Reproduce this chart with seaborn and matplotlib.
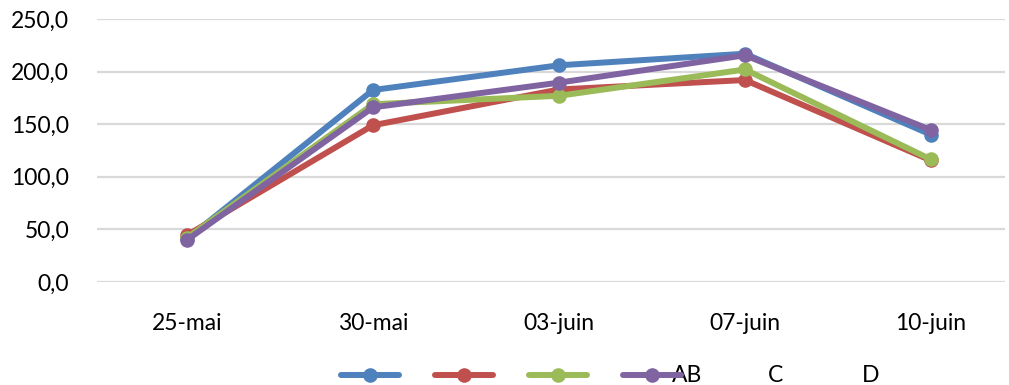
import matplotlib
matplotlib.use("Agg")
import matplotlib.pyplot as plt
from matplotlib.lines import Line2D
import seaborn as sns
import pandas as pd

dates = ["25-mai", "30-mai", "03-juin", "07-juin", "10-juin"]
series_names = ["A", "B", "C", "D"]
values_a = [41.0, 182.5, 206.0, 217.0, 140.0]
values_b = [44.5, 149.0, 183.0, 192.0, 115.5]
values_c = [42.0, 169.0, 177.0, 202.0, 116.5]
values_d = [40.0, 166.0, 189.5, 215.5, 144.5]
y_ticks = [0, 50, 100, 150, 200, 250]
legend_labels = ["AB", "C", "D"]

colors = ["#4F81BD", "#C0504D", "#9BBB59", "#8064A2"]

df = pd.DataFrame({
    "date": dates * 4,
    "serie": sum([[n] * len(dates) for n in series_names], []),
    "valeur": values_a + values_b + values_c + values_d,
})

sns.set_theme(style="white")
plt.rcParams["font.family"] = ["Lato", "DejaVu Sans"]

fig = plt.figure(figsize=(10.09, 3.85), dpi=100)
ax = fig.add_axes([97 / 1009, 1 - 282 / 385, (1005 - 97) / 1009, (282 - 19) / 385])

sns.lineplot(
    data=df, x="date", y="valeur", hue="serie", palette=colors,
    marker="o", markersize=10.5, markeredgewidth=0, linewidth=4.3,
    legend=False, ax=ax, sort=False,
)

ax.set_xlim(-90 / 186, (1005 - 187) / 186)
ax.set_ylim(0, 250)
ax.set_yticks(y_ticks)
ax.set_yticklabels([f"{v:.1f}".replace(".", ",") for v in y_ticks])
ax.set_xlabel("")
ax.set_ylabel("")
ax.yaxis.grid(True, color="#D9D9D9", linewidth=1.6)
ax.xaxis.grid(False)
for s in ax.spines.values():
    s.set_visible(False)
ax.tick_params(axis="both", length=0, labelsize=16.5, colors="black")
ax.tick_params(axis="y", pad=20)
ax.tick_params(axis="x", pad=22)

handles = [Line2D([], [], color=c, marker="o", markersize=10.5, markeredgewidth=0,
                  linewidth=4.3, solid_capstyle="round") for c in colors]
fig.legend(handles, ["", "", "", ""], loc="center", ncol=4,
           bbox_to_anchor=(511 / 1009, 1 - 377 / 385), frameon=False,
           handlelength=2.5, handletextpad=0.0, columnspacing=1.6,
           fontsize=16.5, borderaxespad=0)
for lab, x in zip(legend_labels, [672, 768, 862]):
    fig.text(x / 1009, 1 - 376 / 385, lab, ha="left", va="center",
             fontsize=16.5, color="black")

fig.savefig("out.png", dpi=100)
